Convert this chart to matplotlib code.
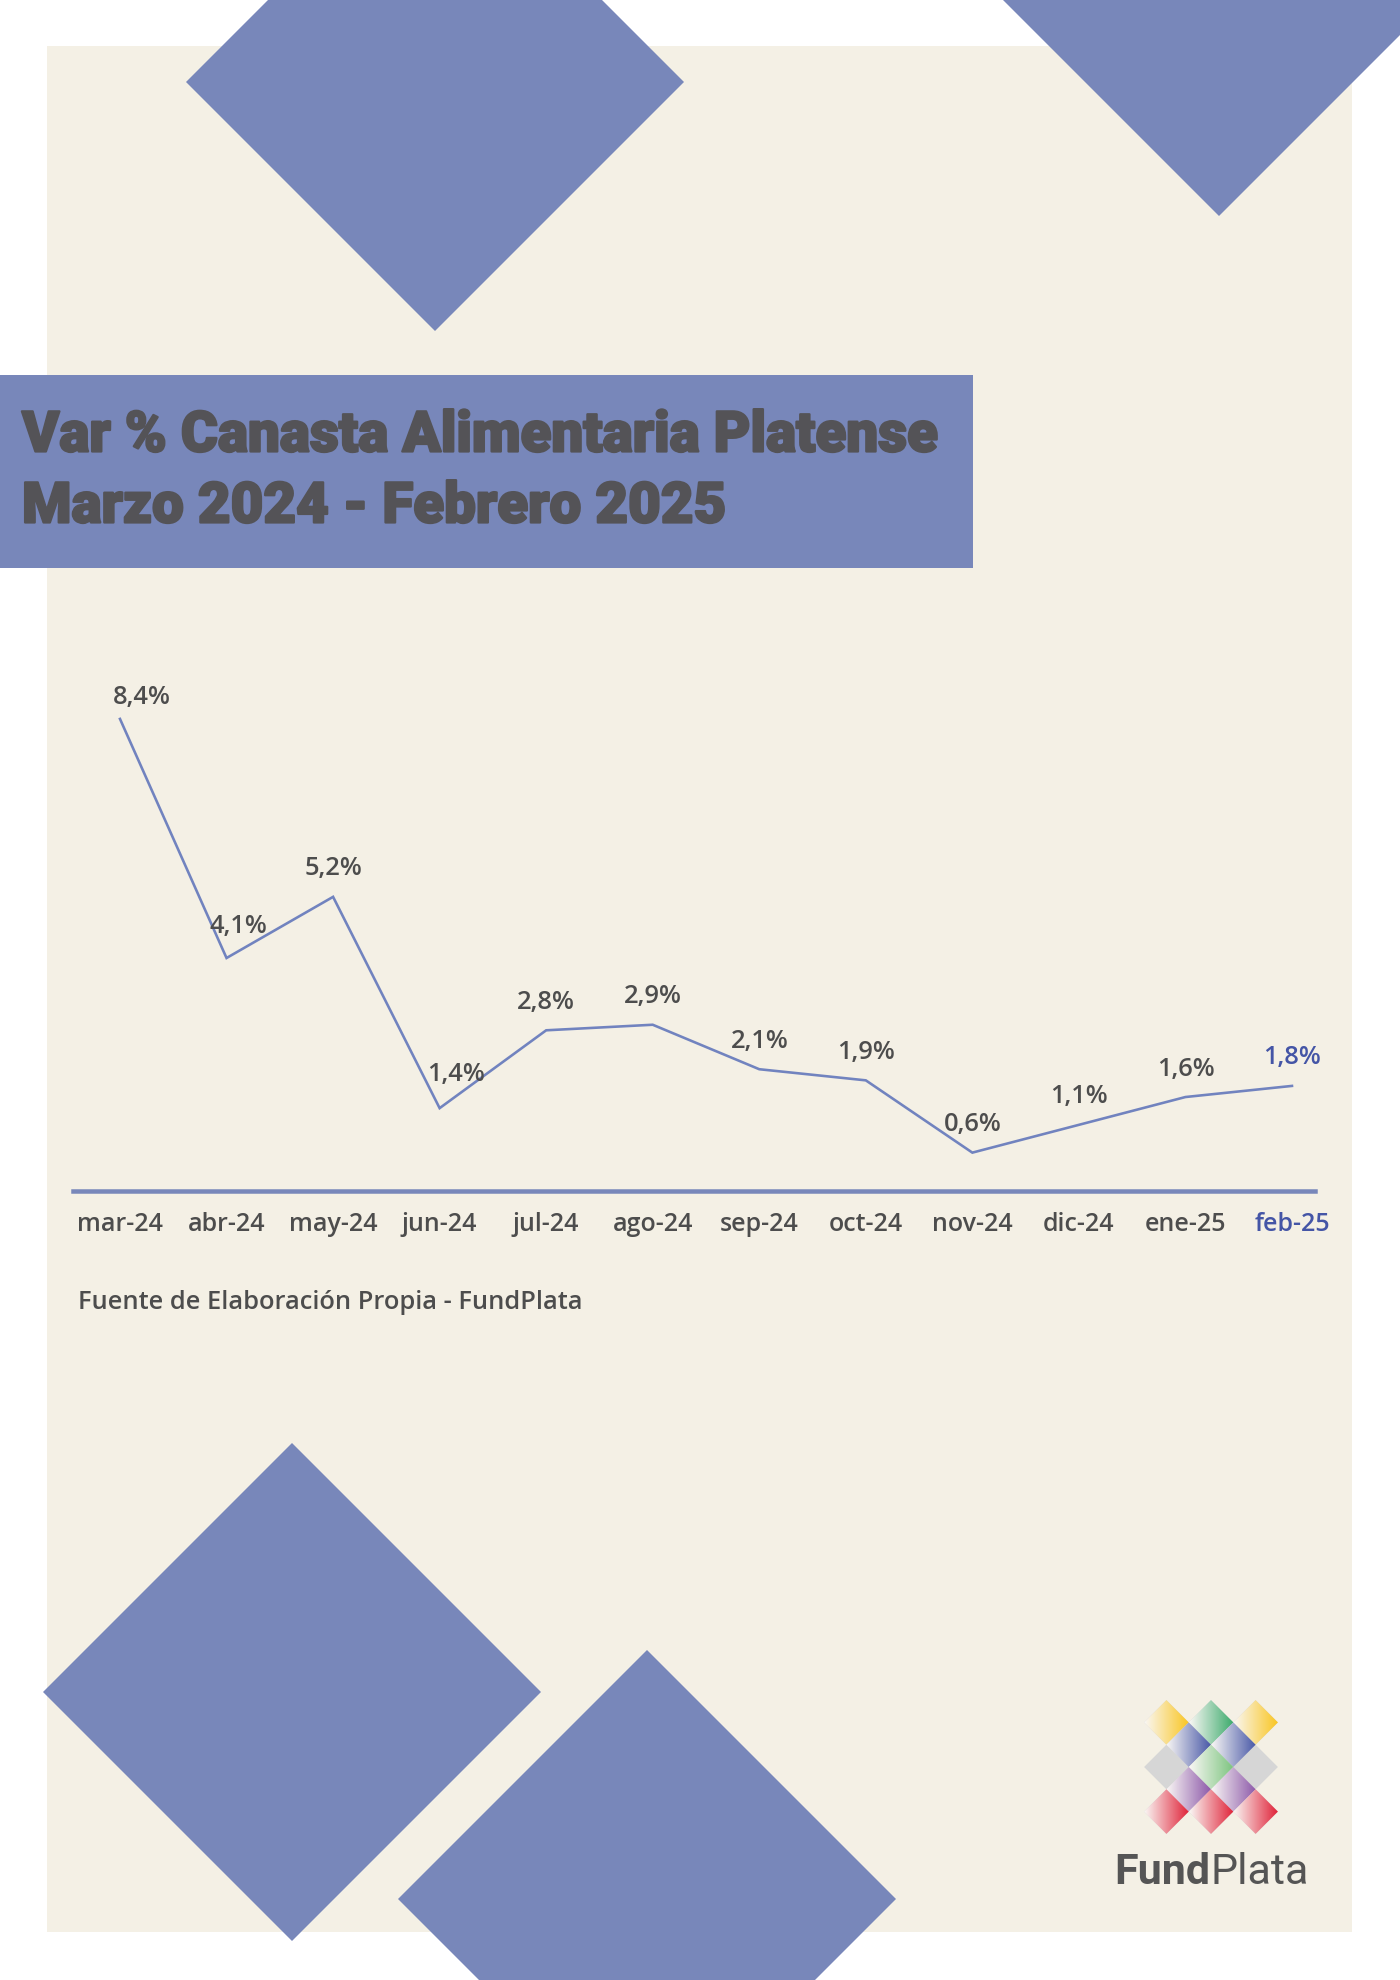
import numpy as np
import matplotlib
matplotlib.use("Agg")
import matplotlib.pyplot as plt
import matplotlib.patheffects as pe
from matplotlib.patches import Rectangle, Polygon

# data
months = ['mar-24', 'abr-24', 'may-24', 'jun-24', 'jul-24', 'ago-24',
          'sep-24', 'oct-24', 'nov-24', 'dic-24', 'ene-25', 'feb-25']
var_pct = [8.4, 4.1, 5.2, 1.4, 2.8, 2.9, 2.1, 1.9, 0.6, 1.1, 1.6, 1.8]

title_lines = ['Var % Canasta Alimentaria Platense', 'Marzo 2024 - Febrero 2025']
source = 'Fuente de Elaboración Propia - FundPlata'

# colours
BLUE = '#7887BA'
LINE = '#7183BF'
DARK_BLUE = '#4455A6'
GRAY = '#4D4D4D'
BEIGE = '#F4F0E5'

W, H = 1400, 1981
fig = plt.figure(figsize=(W / 100, H / 100), dpi=100)
fig.patch.set_facecolor('white')

def px(v):
    # pixels -> points
    return v * 72 / 100

# background / decoration in pixel coords
bg = fig.add_axes([0, 0, 1, 1], zorder=0)
bg.set_xlim(0, W)
bg.set_ylim(H, 0)
bg.set_autoscale_on(False)
bg.axis('off')

bg.add_patch(Rectangle((47, 47), 1305, 1886, facecolor=BEIGE, edgecolor='none'))

def diamond(cx, cy, h):
    return [(cx - h, cy), (cx, cy - h), (cx + h, cy), (cx, cy + h)]

for cx, cy in [(435, 83), (1219, -32), (292, 1693), (647, 1900)]:
    bg.add_patch(Polygon(diamond(cx, cy, 249), closed=True, facecolor=BLUE, edgecolor='none'))

# title band
bg.add_patch(Rectangle((0, 376), 973, 193, facecolor=BLUE, edgecolor='none'))
for yy, line in zip([437, 508], title_lines):
    bg.text(22, yy, line, fontsize=px(56.5), fontweight='black', family='Roboto',
            color='#545357', va='center', ha='left',
            path_effects=[pe.withStroke(linewidth=1.6, foreground='#545357')])

# source note
bg.text(78, 1303, source, fontsize=px(25.5), family='Open Sans', fontweight='semibold',
        color=GRAY, va='center', ha='left')

# logo: lattice of gradient diamonds
logo_cx, logo_cy, lh = 1211, 1768, 22.3
logo_cells = [
    (-2, -2, '#F9C623'), (0, -2, '#3BAA6B'), (2, -2, '#F9C623'),
    (-1, -1, '#4A5AA8'), (1, -1, '#4A5AA8'),
    (-2, 0, None), (0, 0, '#7CC47F'), (2, 0, None),
    (-1, 1, '#8E5BAA'), (1, 1, '#8E5BAA'),
    (-2, 2, '#E0243A'), (0, 2, '#E0243A'), (2, 2, '#E0243A'),
]
for c, r, col in logo_cells:
    cx = logo_cx + c * lh
    cy = logo_cy + r * lh
    poly = Polygon(diamond(cx, cy, lh), closed=True, facecolor='#D6D6D6', edgecolor='none')
    bg.add_patch(poly)
    if col is None:
        continue
    rgb = np.array(matplotlib.colors.to_rgb(col))
    t = np.linspace(0, 1, 64)[None, :, None]
    grad = (1 - t) * np.array([0.98, 0.97, 0.96]) + t * rgb
    img = bg.imshow(grad, extent=(cx - lh, cx + lh, cy + lh, cy - lh),
                    aspect='auto', interpolation='bilinear', zorder=3)
    img.set_clip_path(poly)

t1 = bg.text(1114, 1884, 'Fund', fontsize=px(43), fontweight='bold',
             family='Roboto', color='#555555', va='baseline', ha='left')
bg.annotate('Plata', xy=(1, 0), xycoords=t1, xytext=(0, 0), textcoords='offset points',
            fontsize=px(43), family='Roboto', color='#555555', va='bottom', ha='left')

# chart axes
left, right, top, bottom = 73, 1315, 686, 1192
ax = fig.add_axes([left / W, 1 - bottom / H, (right - left) / W, (bottom - top) / H], zorder=2)
ax.patch.set_alpha(0)
x = np.arange(len(months))
ax.plot(x, var_pct, color=LINE, linewidth=px(2.6), solid_joinstyle='miter')
ax.set_xlim(-0.441, 11.216)
ax.set_ylim(-0.09, 9.01)

for s in ['top', 'left', 'right']:
    ax.spines[s].set_visible(False)
ax.spines['bottom'].set_color(BLUE)
ax.spines['bottom'].set_linewidth(px(4.5))
ax.set_yticks([])
ax.set_xticks(x)
ax.set_xticklabels(months, fontsize=px(25), family='Open Sans', fontweight='semibold', color=GRAY)
ax.get_xticklabels()[-1].set_color(DARK_BLUE)
ax.tick_params(axis='x', length=0, pad=px(20))

# label offsets in pixels (dx, dy), default sits straight above the point
offsets = {0: (22, 22), 1: (12, 33), 3: (16, 35)}
for i, v in enumerate(var_pct):
    dx, dy = offsets.get(i, (0, 29))
    lab = f'{v:.1f}'.replace('.', ',') + '%'
    ax.annotate(lab, (i, v), xytext=(dx, dy), textcoords='offset pixels',
                ha='center', va='center', fontsize=px(25.5), family='Open Sans',
                fontweight='semibold', color=DARK_BLUE if i == len(var_pct) - 1 else GRAY)

fig.savefig('out.png', dpi=100, facecolor='white')
